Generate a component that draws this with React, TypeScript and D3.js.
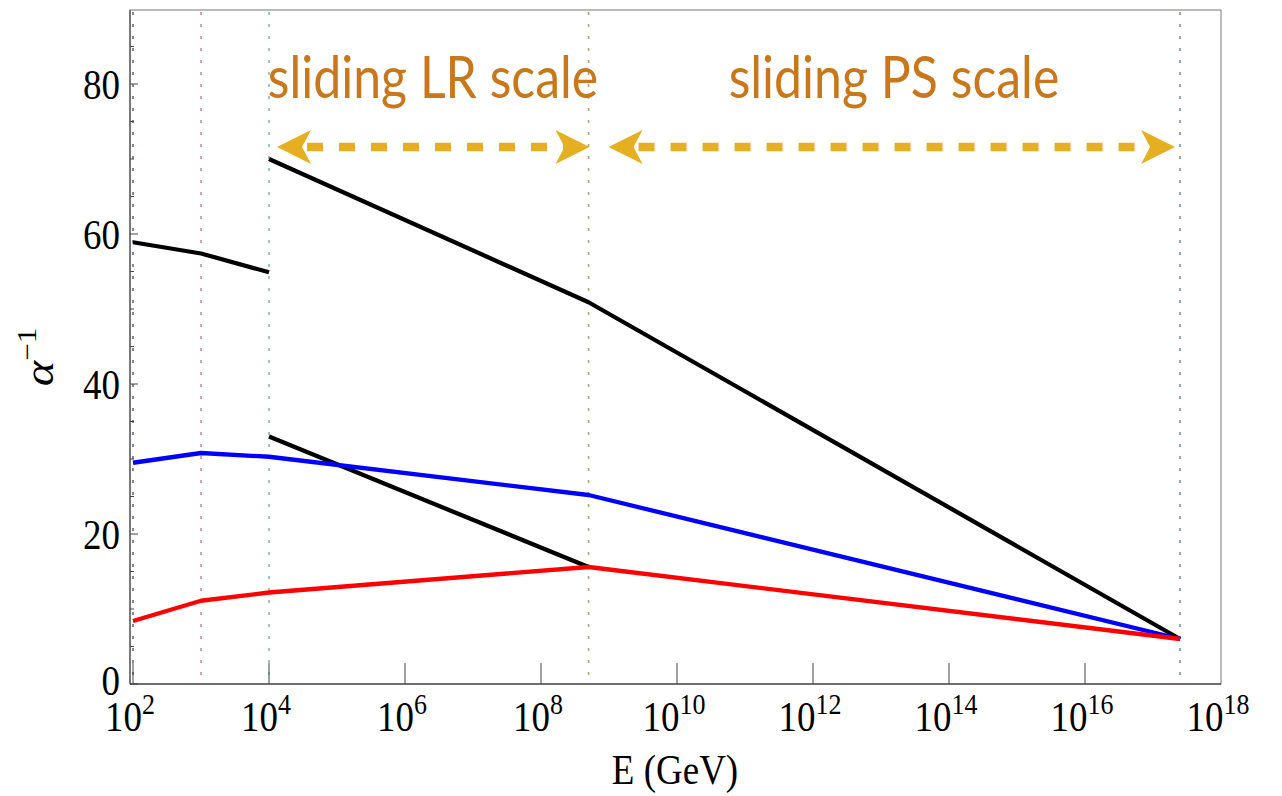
import React from "react";
import * as d3 from "d3";

// energies (GeV) at which the running changes
const eLow = [1e2, 1e3, 1e4];
const eAll = [1e2, 1e3, 1e4, 5e8, 2.5e17];
const eUpper = [1e4, 5e8, 2.5e17];
const eLower = [1e4, 5e8];

// inverse couplings
const blackLeft = [58.9, 57.4, 54.9];
const blackUpper = [70.0, 50.9, 6.0];
const blackLower = [33.0, 15.6];
const blueVals = [29.5, 30.8, 30.3, 25.2, 6.0];
const redVals = [8.4, 11.1, 12.2, 15.6, 6.0];

// vertical dotted markers
const markerE = [1e2, 1e3, 1e4, 5e8, 2.5e17];
const markerColors = ["#66668a", "#c888a8", "#80c49c", "#b4a468", "#7a92c2"];

const yMajor = [0, 20, 40, 60, 80];
const xMajorExp = [2, 4, 6, 8, 10, 12, 14, 16, 18];

const arrows = [
  { from: 1e4, to: 5e8 },
  { from: 5e8, to: 2.5e17 },
];
const labels = [
  { text: "sliding LR scale", at: 433 },
  { text: "sliding PS scale", at: 894 },
];

const W = 1282;
const H = 796;
const left = 130;
const right = 1221;
const top = 9;
const bottom = 684;

const serif = "'Liberation Serif', 'Times New Roman', serif";

function App() {
  const x = d3
    .scaleLog()
    .domain([Math.pow(10, 2 - 3 / 68), 1e18])
    .range([left, right]);
  const y = d3.scaleLinear().domain([0, 90]).range([bottom, top]);

  const line = d3
    .line<[number, number]>()
    .x((d) => x(d[0]))
    .y((d) => y(d[1]));

  const series = [
    { e: eLow, v: blackLeft, color: "#000" },
    { e: eUpper, v: blackUpper, color: "#000" },
    { e: eLower, v: blackLower, color: "#000" },
    { e: eAll, v: blueVals, color: "#0000ff" },
    { e: eAll, v: redVals, color: "#ff0000" },
  ];

  const yMinor = d3.range(0, 90, 5).filter((v) => v % 20 !== 0);

  const head = (tipX: number, dir: number, cy: number) => {
    const L = 34, h = 17, n = 25;
    return `M${tipX},${cy} L${tipX + dir * L},${cy - h} L${tipX + dir * n},${cy} L${tipX + dir * L},${cy + h} Z`;
  };
  const arrowY = 147;

  return (
    <svg width={W} height={H} style={{ position: "absolute", left: 0, top: 0, background: "#fff" }}>
      {/* frame */}
      <rect x={left} y={top + 1} width={right - left} height={bottom - top - 1} fill="none" stroke="#777" strokeWidth={1} />

      {/* dotted markers */}
      {markerE.map((e, i) => (
        <line
          key={"m" + i}
          x1={x(e)}
          x2={x(e)}
          y1={top + 3}
          y2={bottom}
          stroke={markerColors[i]}
          strokeWidth={1.6}
          strokeDasharray="3 9"
        />
      ))}

      {/* axes */}
      <line x1={left} x2={left} y1={top + 1} y2={bottom} stroke="#555" strokeWidth={1.3} />
      <line x1={left} x2={right} y1={bottom} y2={bottom} stroke="#555" strokeWidth={1.3} />

      {yMajor.map((v) => (
        <g key={"yt" + v}>
          <line x1={left} x2={left + 8} y1={y(v)} y2={y(v)} stroke="#444" strokeWidth={1} />
          <text
            transform={`translate(${left - 10},${y(v) - (v === 0 ? 4 : 0)}) scale(1,1.15)`}
            textAnchor="end"
            dy="0.35em"
            fontFamily={serif}
            fontSize={37}
            fill="#000"
          >
            {v}
          </text>
        </g>
      ))}
      {yMinor.map((v) => (
        <line key={"ym" + v} x1={left} x2={left + 4} y1={y(v)} y2={y(v)} stroke="#444" strokeWidth={1} />
      ))}

      {xMajorExp.map((p) => (
        <g key={"xt" + p}>
          {p < 18 && (
            <line x1={x(Math.pow(10, p))} x2={x(Math.pow(10, p))} y1={bottom} y2={bottom - 21} stroke="#444" strokeWidth={1} />
          )}
          <text
            transform={`translate(${x(Math.pow(10, p)) - 3},731) scale(1,1.15)`}
            textAnchor="middle"
            fontFamily={serif}
            fontSize={37}
            fill="#000"
          >
            10
            <tspan dy="-15" fontSize={26}>
              {p}
            </tspan>
          </text>
        </g>
      ))}

      {/* axis titles */}
      <text
        transform="translate(675,784) scale(1,1.15)"
        textAnchor="middle"
        fontFamily={serif}
        fontSize={37}
        fill="#000"
      >
        E (GeV)
      </text>
      <text
        transform="translate(53,357) rotate(-90) scale(1.15,1)"
        textAnchor="middle"
        fontFamily={serif}
        fontSize={42}
        fill="#000"
      >
        <tspan fontStyle="italic">α</tspan>
        <tspan dy="-17" fontSize={27}>
          −1
        </tspan>
      </text>

      {/* series */}
      {series.map((s, i) => (
        <path
          key={"s" + i}
          d={line(s.e.map((e, j) => [e, s.v[j]] as [number, number])) || ""}
          fill="none"
          stroke={s.color}
          strokeWidth={4.3}
          strokeLinejoin="round"
        />
      ))}

      {/* arrows */}
      {arrows.map((a, i) => {
        const x0 = x(a.from) + (i === 0 ? 8 : 20);
        const x1 = x(a.to) - (i === 0 ? -1 : 5);
        return (
          <g key={"a" + i} fill="#e6af22">
            <line
              x1={x0 + 25}
              x2={x1 - 25}
              y1={arrowY}
              y2={arrowY}
              stroke="#e6af22"
              strokeWidth={8.5}
              strokeDasharray="16 16"
              strokeDashoffset={-5}
            />
            <path d={head(x0, 1, arrowY)} />
            <path d={head(x1, -1, arrowY)} />
          </g>
        );
      })}

      {labels.map((l) => (
        <text
          key={l.text}
          transform={`translate(${l.at},98) scale(1,1.15)`}
          textAnchor="middle"
          fontFamily="Lato, 'Open Sans', sans-serif"
          fontSize={50}
          fill="#c8771a"
        >
          {l.text}
        </text>
      ))}
    </svg>
  );
}

export default App;
